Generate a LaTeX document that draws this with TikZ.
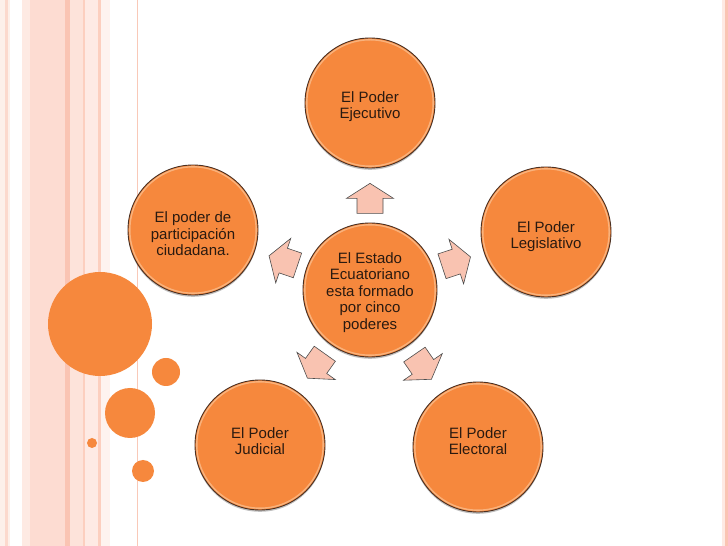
\documentclass[tikz,border=0pt]{standalone}
\usepackage{fontspec}
\setmainfont{Liberation Sans}
\usetikzlibrary{calc}
\definecolor{org}{HTML}{F6883D}
\definecolor{ringd}{HTML}{4A3022}
\definecolor{ringl}{HTML}{F9B27C}
\definecolor{txt}{HTML}{2A1A10}
\definecolor{arrfill}{HTML}{F9C3B1}
\definecolor{arrline}{HTML}{4D4D4D}
\definecolor{sA}{HTML}{FDF0EA}
\definecolor{sB}{HTML}{FCD9CD}
\definecolor{sC}{HTML}{FEEAE3}
\definecolor{sD}{HTML}{FDDCD2}
\definecolor{sE}{HTML}{FAC4B3}
\definecolor{sF}{HTML}{FDE3DA}
\definecolor{sG}{HTML}{FEEAE4}
\definecolor{sH}{HTML}{FCCFBF}
\definecolor{sI}{HTML}{FEF3EF}
\definecolor{sL}{HTML}{F9C9B8}
\tikzset{
  bigc/.style={circle, fill=org, draw=ringd, line width=0.9pt, minimum size=130pt, inner sep=0pt},
  ctext/.style={align=center, text=txt, inner sep=0pt, font=\fontsize{15}{16.5}\selectfont},
  deco/.style={fill=org},
  shadowc/.style={fill=black, opacity=0.25},
  arrst/.style={fill=arrfill, draw=arrline, line width=0.6pt, line join=miter},
  barrow/.pic={\draw[arrst] (-15,-13) -- (0,-13) -- (0,-23.5) -- (15,0) -- (0,23.5) -- (0,13) -- (-15,13) -- cycle;}
}
\begin{document}
\begin{tikzpicture}[x=1pt,y=1pt]
\useasboundingbox (0,0) rectangle (728,546);
\fill[white] (0,0) rectangle (728,546);
% left stripes
\fill[sA] (0,0) rectangle (5,546);
\fill[sB] (5,0) rectangle (8,546);
\fill[sA] (8,0) rectangle (10,546);
\fill[sC] (22,0) rectangle (30,546);
\fill[sD] (30,0) rectangle (65,546);
\fill[sE] (65,0) rectangle (70,546);
\fill[sF] (70,0) rectangle (83,546);
\fill[sH] (83,0) rectangle (85,546);
\fill[sG] (85,0) rectangle (98,546);
\fill[sH] (98,0) rectangle (101,546);
\fill[sI] (101,0) rectangle (110,546);
\draw[sL, line width=1pt] (137,0) -- (137,546);
% right stripes
\fill[sC] (722,0) rectangle (724.5,546);
\fill[sE] (724.5,0) rectangle (728,546);
% decorative circles
\fill[deco] (100,222) circle (52);
\fill[deco] (166,174) circle (14);
\fill[deco] (130,133) circle (25);
\fill[deco] (92,103) circle (5);
\fill[deco] (143,75) circle (11);
% shadows
\foreach \cx/\cy/\r in {370/443/65, 193/316/65, 546/314/65, 260/101/65, 478/99/65, 370/256/67}
  \fill[shadowc] (\cx,\cy-1.8) circle (\r);
% main circles
\node[bigc] (t) at (370,443) {};
\node[bigc] (l) at (193,316) {};
\node[bigc] (r) at (546,314) {};
\node[bigc] (bl) at (260,101) {};
\node[bigc] (br) at (478,99) {};
\node[bigc, minimum size=134pt] (c) at (370,256) {};
% inner light rings
\foreach \n in {t,l,r,bl,br}
  \draw[ringl, line width=1.4pt] (\n.center) circle (63.2);
\draw[ringl, line width=1.4pt] (c.center) circle (65.2);
% texts
\node[ctext] (tt) at ([yshift=-3.5]t.center) {El Poder\\Ejecutivo};
\node[ctext] (lt) at ([yshift=-4]l.center) {El poder de\\participación\\ciudadana.};
\node[ctext] (rt) at ([yshift=-4.5]r.center) {El Poder\\Legislativo};
\node[ctext] (blt) at ([yshift=4]bl.center) {El Poder\\Judicial};
\node[ctext] (brt) at ([yshift=6]br.center) {El Poder\\Electoral};
\node[ctext] (ct) at ([yshift=-2.5]c.center) {El Estado\\Ecuatoriano\\esta formado\\por cinco\\poderes};
% block arrows
\pic[rotate=90] at ($(c)!0.49!(t)$) {barrow};
\pic[rotate=161.3] at ($(c)!0.49!(l)$) {barrow};
\pic[rotate=18.2] at ($(c)!0.49!(r)$) {barrow};
\pic[rotate=-125.4] at ($(c)!0.49!(bl)$) {barrow};
\pic[rotate=-55.5] at ($(c)!0.49!(br)$) {barrow};
\end{tikzpicture}
\end{document}
